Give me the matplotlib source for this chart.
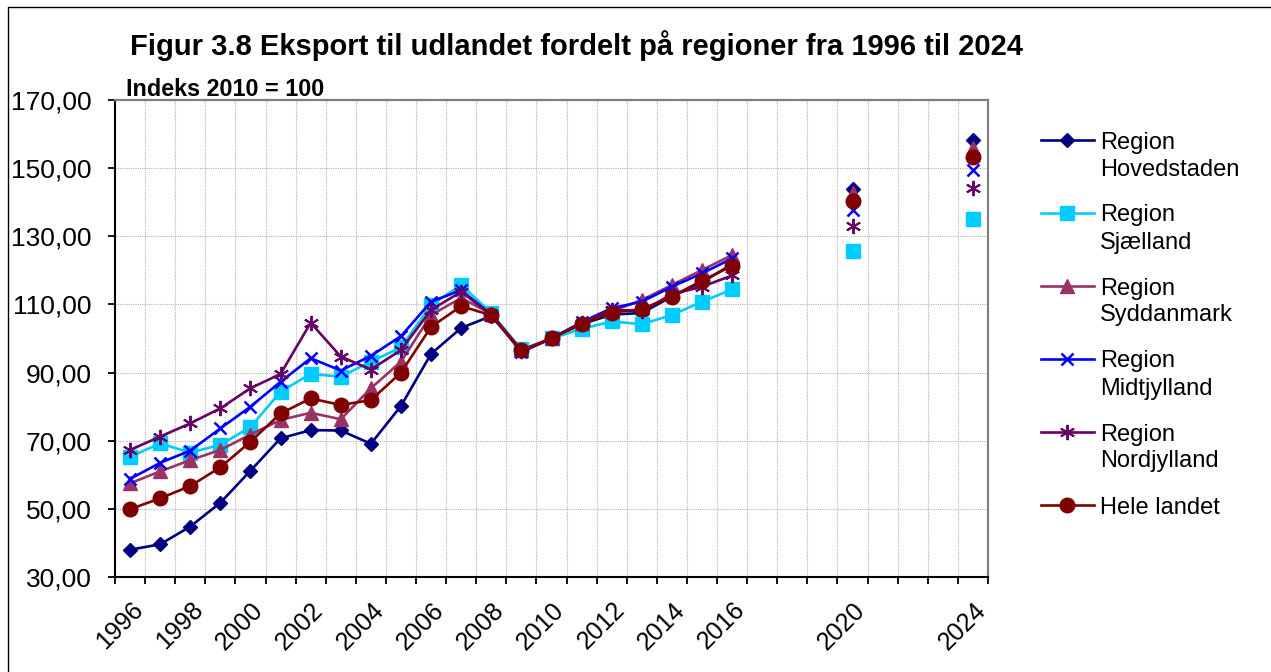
import numpy as np
import matplotlib
matplotlib.use("Agg")
import matplotlib.pyplot as plt
from matplotlib.lines import Line2D
from matplotlib.ticker import FixedLocator, NullFormatter
import matplotlib.transforms as mtransforms

plt.rcParams['font.family'] = ['Liberation Sans', 'DejaVu Sans']

# ---------------- data ----------------
categories = ["1996", "1997", "1998", "1999", "2000", "2001", "2002", "2003", "2004",
              "2005", "2006", "2007", "2008", "2009", "2010", "2011", "2012", "2013",
              "2014", "2015", "2016", "", "", "", "2020", "", "", "", "2024"]

hovedstaden = [38.0, 39.6, 44.8, 51.8, 61.2, 70.7, 73.1, 73.0, 69.1, 80.2, 95.5, 103.1,
               106.6, 96.5, 100.0, 104.2, 107.0, 107.5, 112.3, 116.5, 121.8,
               None, None, None, 144.0, None, None, None, 158.3]
sjaelland = [65.3, 69.2, 66.5, 68.8, 74.0, 84.4, 89.6, 88.8, 93.2, 97.4, 109.8, 115.7,
             107.5, 96.8, 100.0, 102.8, 105.0, 104.2, 106.9, 110.8, 114.4,
             None, None, None, 125.8, None, None, None, 135.1]
syddanmark = [57.5, 61.0, 64.3, 67.3, 71.8, 76.1, 78.2, 76.3, 85.4, 93.2, 106.9, 111.9,
              107.2, 96.6, 100.0, 104.6, 108.0, 111.3, 115.7, 120.1, 124.5,
              None, None, None, 142.6, None, None, None, 155.8]
midtjylland = [58.8, 63.5, 67.1, 73.6, 80.0, 87.3, 94.2, 90.6, 94.9, 100.7, 110.8, 114.2,
               107.0, 96.0, 100.0, 104.8, 108.9, 110.8, 115.2, 119.1, 123.5,
               None, None, None, 137.7, None, None, None, 149.5]
nordjylland = [67.3, 71.2, 75.1, 79.5, 85.4, 89.6, 104.6, 94.7, 90.9, 96.6, 108.4, 113.7,
               107.0, 96.2, 100.0, 104.6, 108.5, 108.0, 113.0, 115.2, 118.5,
               None, None, None, 133.0, None, None, None, 144.1]
hele_landet = [49.9, 53.1, 56.7, 62.2, 69.7, 78.0, 82.4, 80.5, 81.9, 90.0, 103.4, 109.5,
               106.8, 96.5, 100.0, 104.4, 107.6, 108.6, 112.3, 117.0, 121.3,
               None, None, None, 140.4, None, None, None, 153.2]

series_names = ["Region\nHovedstaden", "Region\nSjælland", "Region\nSyddanmark",
                "Region\nMidtjylland", "Region\nNordjylland", "Hele landet"]
series_values = [hovedstaden, sjaelland, syddanmark, midtjylland, nordjylland, hele_landet]

y_ticks = [30, 50, 70, 90, 110, 130, 150, 170]

title = "Figur 3.8 Eksport til udlandet fordelt på regioner fra 1996 til 2024"
subtitle = "Indeks 2010 = 100"

# ---------------- styles ----------------
colors = ["#000080", "#00CCFF", "#993366", "#0000FF", "#660066", "#800000"]
markers = ["D", "s", "^", "x", (6, 2, 0), "o"]
msizes = [6.8, 9.5, 9.5, 9.0, 11.0, 10.5]
mews = [1.0, 1.0, 1.0, 1.8, 1.4, 1.0]

W, H = 1271, 672
fig = plt.figure(figsize=(W / 100, H / 100), dpi=100)
ax = fig.add_axes([115 / W, 1 - 577 / H, (988 - 115) / W, (577 - 100) / H])

x = np.arange(len(categories))
for vals, name, c, m, ms, mew in zip(series_values, series_names, colors, markers, msizes, mews):
    y = np.array([np.nan if v is None else v for v in vals], dtype=float)
    ax.plot(x, y, color=c, lw=1.9, marker=m, ms=ms, mfc=c, mec=c, mew=mew,
            clip_on=False, label=name)

ax.set_xlim(-0.5, len(categories) - 0.5)
ax.set_ylim(30, 170)

# y axis
ax.set_yticks(y_ticks)
ax.set_yticklabels([f"{v:.2f}".replace(".", ",") for v in y_ticks], fontsize=19)
ax.tick_params(axis="y", direction="out", length=5, width=1.3, color="black", pad=12)

# x axis: labels at every second category, tick marks at category boundaries
major_pos = [i for i in range(0, len(categories), 2)]
ax.set_xticks(major_pos)
ax.set_xticklabels([categories[i] for i in major_pos], fontsize=18,
                   rotation=45, ha="right", va="center", rotation_mode="anchor")
ax.xaxis.set_minor_locator(FixedLocator(np.arange(-0.5, len(categories), 1.0)))
ax.xaxis.set_minor_formatter(NullFormatter())
ax.tick_params(axis="x", which="major", length=0, pad=21)
ax.tick_params(axis="x", which="minor", direction="out", length=5, width=1.3, color="black")
offset = mtransforms.ScaledTranslation(0.09, 0, fig.dpi_scale_trans)
for lab in ax.get_xticklabels():
    lab.set_transform(lab.get_transform() + offset)

# grid
ax.grid(True, axis="y", which="major", color="#B4B4B4", lw=0.8, ls=(0, (1, 1)))
ax.grid(True, axis="x", which="minor", color="#B4B4B4", lw=0.8, ls=(0, (1, 1)))
ax.set_axisbelow(True)

# spines
for s in ["left", "bottom"]:
    ax.spines[s].set_color("black")
    ax.spines[s].set_linewidth(1.5)
for s in ["top", "right"]:
    ax.spines[s].set_color("#808080")
    ax.spines[s].set_linewidth(1.6)

# titles
fig.text(576 / W, 1 - 55 / H, title, ha="center", va="baseline",
         fontsize=21, fontweight="bold")
fig.text(126 / W, 1 - 96 / H, subtitle, ha="left", va="baseline",
         fontsize=16.8, fontweight="bold")

# legend (drawn manually so the marker aligns with the first line of each label)
leg_y0 = 140
leg_dy = 73
for i, (name, c, m, ms, mew) in enumerate(zip(series_names, colors, markers, msizes, mews)):
    yc = leg_y0 + i * leg_dy
    yf = 1 - yc / H
    fig.add_artist(Line2D([1041 / W, 1067 / W, 1094 / W], [yf, yf, yf],
                          transform=fig.transFigure, color=c, lw=1.9,
                          marker=m, ms=ms, mfc=c, mec=c, mew=mew, markevery=[1]))
    for j, line in enumerate(name.split("\n")):
        fig.text(1100 / W, 1 - (yc + 8.5 + 27 * j) / H, line, ha="left",
                 va="baseline", fontsize=17)

# chart-area border (left and top edges visible)
fig.add_artist(Line2D([8 / W, 8 / W, 1.0], [0.0, 1 - 7 / H, 1 - 7 / H],
                      transform=fig.transFigure, color="black", lw=1.0))

fig.savefig("out.png", dpi=100)
